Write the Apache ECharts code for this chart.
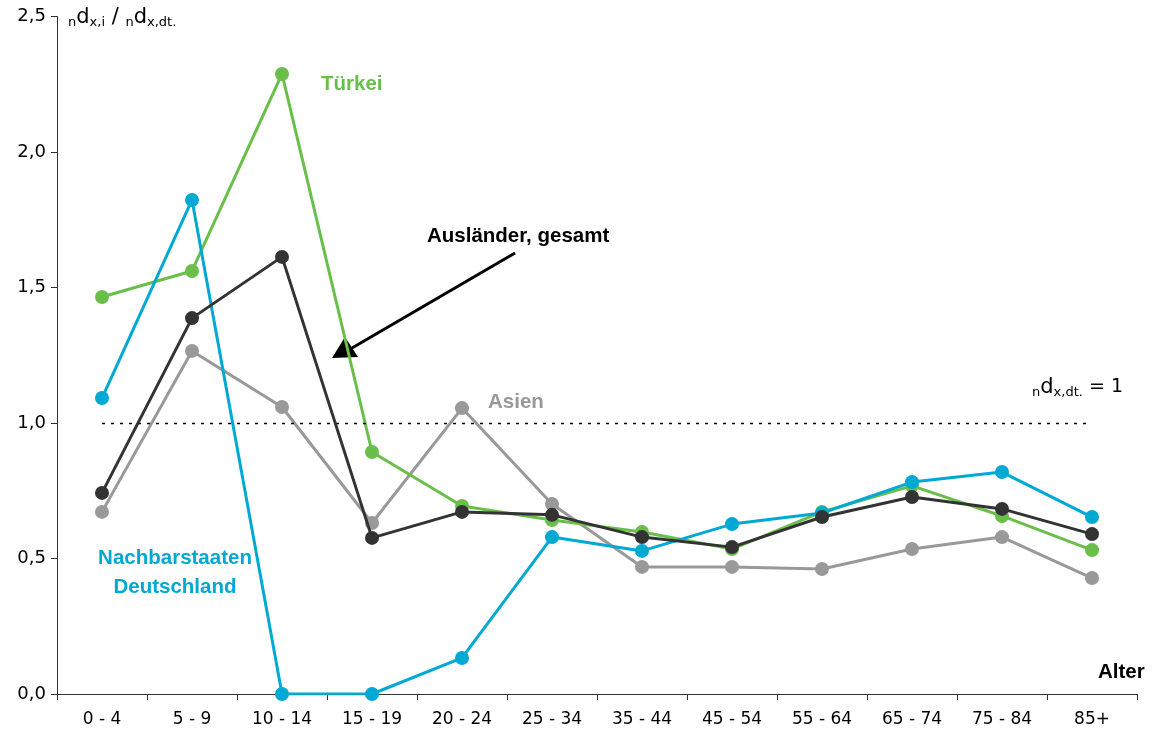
<!DOCTYPE html>
<html><head><meta charset="utf-8">
<script src="https://cdn.jsdelivr.net/npm/echarts@6/dist/echarts.min.js"></script>
<style>html,body{margin:0;padding:0;background:#fff}#c{width:1153px;height:740px}</style>
</head><body><div id="c"></div>
<script>
const categories = ['0 - 4','5 - 9','10 - 14','15 - 19','20 - 24','25 - 34','35 - 44','45 - 54','55 - 64','65 - 74','75 - 84','85+'];
const tuerkei = [1.465,1.561,2.288,0.893,0.694,0.642,0.598,0.535,0.672,0.768,0.657,0.531];
const nachbar = [1.092,1.823,0,0,0.133,0.579,0.528,0.627,0.668,0.782,0.819,0.653];
const gesamt  = [0.742,1.387,1.613,0.576,0.672,0.661,0.579,0.542,0.653,0.727,0.683,0.590];
const asien   = [0.672,1.266,1.059,0.631,1.055,0.701,0.469,0.469,0.461,0.535,0.579,0.428];
const refValue = 1;

const F = 'DejaVu Sans';
function ser(name, data, color, z){
  return {name, type:'line', data, z, symbol:'circle', symbolSize:14,
    lineStyle:{color, width:3}, itemStyle:{color}, emphasis:{disabled:true}};
}
const chart = echarts.init(document.getElementById('c'));
const s4 = ser('Asien', asien, '#999999', 2);
s4.markLine = {silent:true, symbol:'none', label:{show:false},
  lineStyle:{color:'#000', type:[3,6], width:1.3},
  data:[[{coord:[categories[0], refValue]},{coord:[categories[categories.length-1], refValue]}]]};
const lab = (x, y, text, color, extra) => Object.assign({type:'text', x, y, z:100, style:Object.assign({
  text, fill:color, font:'bold 20.5px "Liberation Sans"', verticalAlign:'middle'}, extra||{})});
chart.setOption({
  animation:false,
  grid:{left:57, right:16, top:16.5, bottom:46, containLabel:false},
  xAxis:{type:'category', data:categories, boundaryGap:true,
    axisLine:{lineStyle:{color:'#333', width:1}},
    axisTick:{show:true, length:6, lineStyle:{color:'#333'}},
    axisLabel:{color:'#000', fontFamily:F, fontSize:17, margin:17}},
  yAxis:{type:'value', min:0, max:2.5, interval:0.5,
    splitLine:{show:false},
    axisLine:{show:true, lineStyle:{color:'#333', width:1}},
    axisTick:{show:true, length:6, lineStyle:{color:'#333'}},
    axisLabel:{color:'#000', fontFamily:F, fontSize:18, margin:11,
      formatter:v=>v.toFixed(1).replace('.',',')}},
  series:[
    s4,
    ser('Türkei', tuerkei, '#6abf4b', 3),
    ser('Nachbarstaaten Deutschland', nachbar, '#00a9d4', 4),
    ser('Ausländer, gesamt', gesamt, '#333333', 5)
  ],
  graphic:[
    {type:'text', x:68, y:6, style:{
      text:'{s|n}{b|d}{s|x,i}{b| / }{s|n}{b|d}{s|x,dt.}',
      rich:{s:{fontFamily:F, fontSize:13, fill:'#000', padding:[10,0,0,0]},
            b:{fontFamily:F, fontSize:21, fill:'#000'}}}},
    {type:'text', x:1032, y:376, style:{
      text:'{s|n}{b|d}{s|x,dt.}{e| = 1}',
      rich:{s:{fontFamily:F, fontSize:13, fill:'#000', padding:[10,0,0,0]},
            b:{fontFamily:F, fontSize:21, fill:'#000'},
            e:{fontFamily:F, fontSize:19, fill:'#000'}}}},
    lab(321, 84, 'Türkei', '#6abf4b'),
    lab(427, 236, 'Ausländer, gesamt', '#000'),
    lab(488, 402, 'Asien', '#999999'),
    lab(175, 573, 'Nachbarstaaten\nDeutschland', '#00a9d4', {align:'center', lineHeight:29}),
    lab(1098, 672, 'Alter', '#000'),
    {type:'line', shape:{x1:515, y1:253, x2:352, y2:348}, style:{stroke:'#000', lineWidth:3}},
    {type:'polygon', shape:{points:[[332,358],[345,337],[358,357]]}, style:{fill:'#000'}}
  ]
});
</script></body></html>
